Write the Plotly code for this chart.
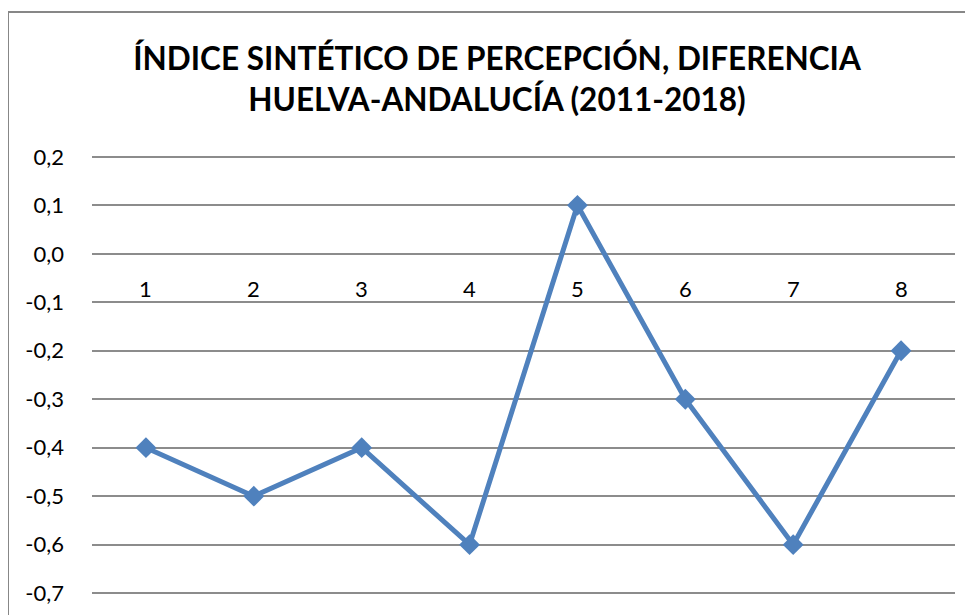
import plotly.graph_objects as go

categories = ["1", "2", "3", "4", "5", "6", "7", "8"]
values = [-0.4, -0.5, -0.4, -0.6, 0.1, -0.3, -0.6, -0.2]
y_tick_vals = [0.2, 0.1, 0.0, -0.1, -0.2, -0.3, -0.4, -0.5, -0.6, -0.7]
y_tick_text = ["0,2", "0,1", "0,0", "-0,1", "-0,2", "-0,3", "-0,4", "-0,5", "-0,6", "-0,7"]
title_text = "ÍNDICE SINTÉTICO DE PERCEPCIÓN, DIFERENCIA<br>HUELVA-ANDALUCÍA (2011-2018)"

# the page body adds an 8px offset; figure spans window from (8, 8) to (973, 615)
W, H = 965, 607
ml, mr, mt, mb = 84, 18, 144, 17
pw, ph = W - ml - mr, H - mt - mb

FONT = "Lato"
BLUE = "#4F81BD"
GRID = "#8C8C8C"

fig = go.Figure()
fig.add_trace(go.Scatter(
    x=list(range(len(categories))), y=values, mode="lines+markers",
    line=dict(color=BLUE, width=5),
    marker=dict(symbol="diamond", size=16, color=BLUE),
    showlegend=False, hoverinfo="skip",
))

for i, c in enumerate(categories):
    fig.add_annotation(x=i, y=0, xref="x", yref="y", text=c, showarrow=False,
                       yshift=-35, font=dict(family=FONT, size=22, color="#000"))

fig.update_layout(
    width=W, height=H,
    margin=dict(l=ml, r=mr, t=mt, b=mb, autoexpand=False),
    paper_bgcolor="white", plot_bgcolor="white",
    title=dict(text=title_text, x=489 / W, xref="container", xanchor="center",
               y=1 - 62 / H, yanchor="middle",
               font=dict(family=FONT, size=31.5, color="#000", weight="bold")),
    xaxis=dict(range=[-0.5, len(categories) - 0.5], showgrid=False, zeroline=False,
               showticklabels=False, showline=False),
    yaxis=dict(range=[-0.71, 0.21], tickvals=y_tick_vals, ticktext=y_tick_text,
               showgrid=True, gridcolor=GRID, gridwidth=1.5, zeroline=False,
               showline=False, ticks="", ticklabelstandoff=27,
               tickfont=dict(family=FONT, size=22, color="#000")),
    shapes=[dict(type="rect", xref="paper", yref="paper",
                 x0=(0 - ml) / pw, x1=(W + 10 - ml) / pw,
                 y0=-(mb + 10) / ph, y1=(H - 4 - mb) / ph,
                 line=dict(color="#878787", width=2), fillcolor="rgba(0,0,0,0)", layer="below")],
)

fig.write_html("out.html")
